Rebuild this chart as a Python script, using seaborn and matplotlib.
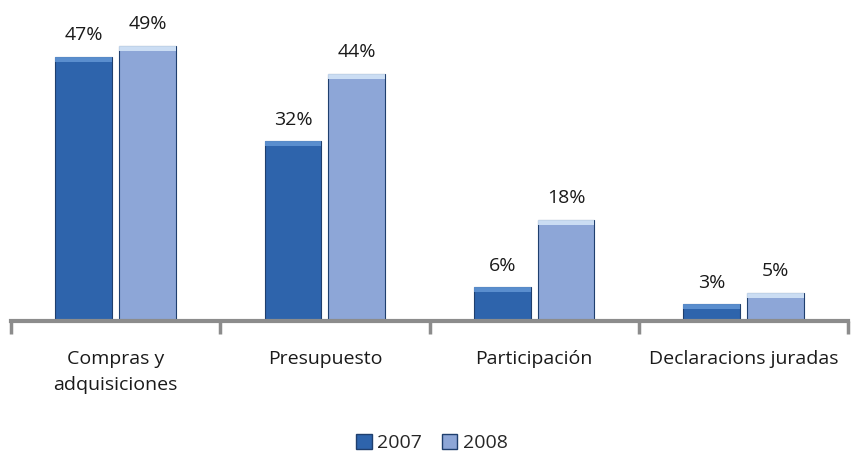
import numpy as np
import pandas as pd
import matplotlib.pyplot as plt
import seaborn as sns
from matplotlib.patches import Patch

# ==================== Data ====================
categories = ["Compras y\nadquisiciones", "Presupuesto", "Participación", "Declaracions juradas"]
years = ["2007", "2008"]
values_2007 = [47, 32, 6, 3]
values_2008 = [49, 44, 18, 5]

COLOR_2007 = "#2E64AC"
COLOR_2008 = "#8DA6D7"

df = pd.DataFrame({
    "Categoria": categories * 2,
    "Año": [years[0]] * 4 + [years[1]] * 4,
    "Valor": values_2007 + values_2008,
})

sns.set_theme(style="white")
plt.rcParams["font.family"] = ["Open Sans", "DejaVu Sans"]

fig = plt.figure(figsize=(8.52, 4.65), dpi=100)
ax = fig.add_axes([11 / 852, 1 - 321 / 465, 837 / 852, 281 / 465])

sns.barplot(data=df, x="Categoria", y="Valor", hue="Año",
            palette=[COLOR_2007, COLOR_2008], saturation=1, width=0.61, gap=0.11,
            edgecolor="#1F3F6E", linewidth=0.8, legend=False, ax=ax)

# bevel-ish highlight on bar tops + value labels
for container, col in zip(ax.containers, [COLOR_2007, COLOR_2008]):
    for patch in container:
        x, w, h = patch.get_x(), patch.get_width(), patch.get_height()
        ax.bar(x + w / 2, 0.9, width=w, bottom=h - 0.9,
               color="#D3E4F7" if col == COLOR_2008 else "#5F93D2",
               edgecolor="none", alpha=0.9, zorder=3)
    ax.bar_label(container, labels=[f"{int(v)}%" for v in container.datavalues],
                 padding=9, fontsize=14, color="#1a1a1a")

ax.set_ylim(0, 50)
ax.set_xlim(-0.5, 3.5)
ax.set_xlabel("")
ax.set_ylabel("")
ax.set_yticks([])
for s in ["top", "right", "left"]:
    ax.spines[s].set_visible(False)
ax.spines["bottom"].set_color("#8C8C8C")
ax.spines["bottom"].set_linewidth(3)

ax.set_xticks(np.arange(-0.5, 4, 1), minor=True)
ax.tick_params(axis="x", which="minor", bottom=True, length=9, width=2.5,
               color="#8C8C8C", direction="out")
ax.tick_params(axis="x", which="major", bottom=False, length=0, pad=21,
               labelsize=14, labelcolor="#1a1a1a")
for lbl in ax.get_xticklabels():
    lbl.set_linespacing(1.55)

handles = [Patch(facecolor=COLOR_2007, edgecolor="#1F3F6E"),
           Patch(facecolor=COLOR_2008, edgecolor="#1F3F6E")]
fig.legend(handles, years, loc="center", bbox_to_anchor=(432 / 852, 1 - 443 / 465),
           ncol=2, frameon=False, fontsize=14, handlelength=0.8, handleheight=0.8,
           handletextpad=0.3, columnspacing=1.0)

fig.savefig("out.png", dpi=100)
